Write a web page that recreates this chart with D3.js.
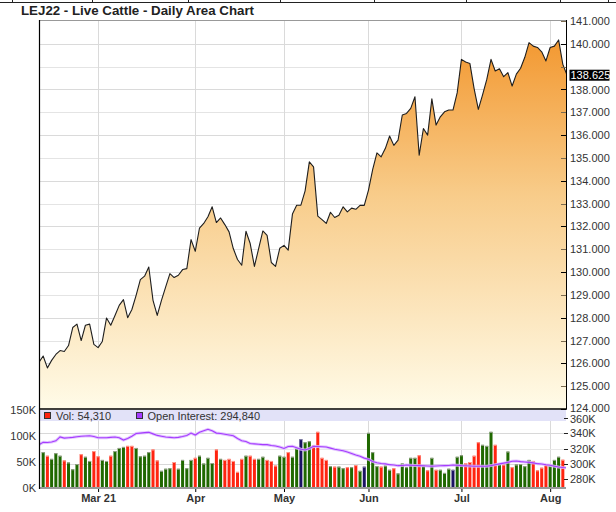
<!DOCTYPE html>
<html><head><meta charset="utf-8">
<script src="https://cdn.jsdelivr.net/npm/d3@7/dist/d3.min.js"></script>
<style>
body{margin:0;background:#fff}
svg{display:block;font-family:"Liberation Sans",Arial,Helvetica,sans-serif}
</style>
</head><body>
<svg id="c" width="616" height="512"></svg>
<script>
// ---------------- DATA ----------------
const chartTitle = "LEJ22 - Live Cattle - Daily Area Chart";
// daily closes; first value = session before first visible bar, last = latest session
const closes = [126.05,
  126.32,125.80,126.13,126.39,126.56,126.52,126.78,127.57,127.72,127.00,
  127.67,127.72,126.83,126.69,126.96,127.99,127.67,128.10,128.54,128.79,
  128.00,128.36,128.98,129.67,129.82,130.22,128.76,128.10,128.76,129.35,
  129.93,129.76,129.86,130.11,130.15,131.42,130.91,131.93,132.13,132.42,
  132.86,132.17,132.37,132.08,131.76,131.03,130.55,130.30,131.79,131.25,
  130.25,131.03,131.80,131.61,130.42,130.25,131.04,131.17,130.96,132.54,
  132.93,132.93,133.56,134.83,134.61,132.45,132.30,132.13,132.62,132.39,
  132.49,132.86,132.64,132.80,132.75,132.92,132.92,133.59,134.50,135.22,
  135.05,135.42,135.96,135.55,135.78,136.88,136.95,137.17,137.68,135.12,
  136.29,136.00,137.59,136.44,136.80,137.02,137.10,137.10,137.86,139.32,
  139.20,139.14,138.04,137.13,137.76,138.44,139.32,138.81,138.91,138.56,
  138.74,138.15,138.67,138.93,139.41,140.05,139.90,139.84,139.65,139.25,
  139.84,139.90,140.17,139.10,
  138.625];
// volume in thousands (null = not shown)
const volumes = [null,
  69,62,56,67,62,53,49,36,46,65,
  60,52,71,61,54,52,62,71,77,79,
  81,81,77,61,62,69,74,53,33,37,
  38,50,37,54,38,54,58,62,47,58,
  48,74,56,54,56,52,31,56,62,62,
  56,56,60,54,52,43,62,60,69,60,
  76,94,88,90,82,108,58,54,42,41,
  41,38,40,40,44,33,41,106,69,42,
  41,43,35,38,28,47,40,58,58,63,
  43,34,58,35,35,29,37,35,60,63,
  48,50,62,88,83,81,108,83,46,45,
  70,40,45,46,42,54,52,34,39,46,
  42,54,60,54.31,
  null];
// price change direction of each session: u = up, d = down, n = unchanged
const changes = [null,
  "u","d","u","u","u","d","u","u","u","d",
  "u","u","d","d","u","u","d","u","u","u",
  "d","d","u","u","u","u","d","d","u","u",
  "u","d","u","u","u","u","d","u","u","u",
  "u","d","u","d","d","d","d","d","u","d",
  "d","u","u","d","d","d","u","u","d","u",
  "u","n","u","u","d","d","d","d","u","d",
  "u","u","d","u","d","u","n","u","u","u",
  "d","u","u","d","u","u","u","u","u","d",
  "u","d","u","d","u","u","u","n","u","u",
  "d","d","d","d","u","u","u","d","u","d",
  "u","d","u","u","u","u","d","d","d","d",
  "u","u","u","d",
  null];
// open interest in thousands
const openInterest = [325,
  328,327.7,328.5,330,335,333.5,334,334.5,335.3,336,
  336.3,336.6,335.5,334,334,334,334.5,335,334,331,
  333,336,339.5,340,340.6,341,339,337,336,335,
  334.5,334,334.5,335.5,337,340,337.5,341,343,345,
  343,340,339.5,338.5,337.5,336.5,333,330,329,326.5,
  326,325.5,325,325,324,323.2,322,320,322.5,322.8,
  321,319,318,320,322.8,322.5,322.3,322,320.5,319,
  318,317,315.5,313.5,311.5,310,307.5,306,303,301.5,
  300.5,300,299,298.5,297.7,298,298.6,298.3,298,297.7,
  297.5,297.2,297,297.2,297.5,297.7,298,298.6,298.3,297.8,
  297.5,297.3,297,297,297,297,297.8,299,300,301,
  302,303.5,303.8,303,302.5,302,301.3,300.3,299.8,298.8,
  298.2,297,296,295.3,
  294.84];
const monthLabels = ["Mar 21","Apr","May","Jun","Jul","Aug"];
const monthIndex  = [14,37,58,78,100,121];
const priceTicks = [124,125,126,127,128,129,130,131,132,133,134,135,136,137,138,139,140,141];
const volumeTicks = [0,50,100,150];
const oiTicks = [280,300,320,340,360];
const lastPrice = 138.625, lastVolume = 54310, lastOpenInterest = 294840;

// ---------------- LAYOUT ----------------
const svg = d3.select("#c");
const L = 40, R = 566, pTop = 20, pBot = 409, legTop = 410, legBot = 421, vBot = 488;
const x = d3.scaleLinear().domain([0.25, 124.75]).range([L, R]);
const yP = d3.scaleLinear().domain([124, 141]).range([pBot, 21]);
const yV = d3.scaleLinear().domain([0, 150]).range([vBot, 410]);
const yOI = d3.scaleLinear().domain([280, 360]).range([479.3, 417.7]);
const txt = "#333";
const FONT = "Liberation Sans, Arial, sans-serif";

svg.append("rect").attr("width", 616).attr("height", 512).attr("fill", "#fff");

// top strip remnants (table border above the chart)
svg.append("line").attr("x1", 0).attr("x2", 616).attr("y1", 2.5).attr("y2", 2.5).attr("stroke", "#222");
[12, 92, 188, 280, 374, 466, 560, 608].forEach(v =>
  svg.append("line").attr("x1", v + .5).attr("x2", v + .5).attr("y1", 0).attr("y2", 3).attr("stroke", "#222"));

// title
svg.append("text").attr("x", 21).attr("y", 14.5).attr("font-size", "13.3px").attr("font-weight", "bold")
  .attr("fill", "#222").text(chartTitle);

const defs = svg.append("defs");
const grad = defs.append("linearGradient").attr("id", "ag").attr("gradientUnits", "userSpaceOnUse")
  .attr("x1", 0).attr("x2", 0).attr("y1", pTop).attr("y2", pBot);
grad.append("stop").attr("offset", 0).attr("stop-color", "#f29226");
grad.append("stop").attr("offset", 0.45).attr("stop-color", "#f8cc8a");
grad.append("stop").attr("offset", 1).attr("stop-color", "#fffbe8");
defs.append("clipPath").attr("id", "cp").append("rect").attr("x", L).attr("y", pTop).attr("width", R - L).attr("height", pBot - pTop);
defs.append("clipPath").attr("id", "cv").append("rect").attr("x", L).attr("y", legBot).attr("width", R - L).attr("height", vBot - legBot);

// price grid
const g = svg.append("g");
priceTicks.filter(p => p > 124 && p < 141).forEach(p =>
  g.append("line").attr("x1", L).attr("x2", R).attr("y1", Math.round(yP(p)) + .5).attr("y2", Math.round(yP(p)) + .5)
    .attr("stroke", p % 2 ? "#e4e4e4" : "#dadada"));
monthIndex.forEach(j => {
  const xx = Math.round(x(j)) + .5;
  g.append("line").attr("x1", xx).attr("x2", xx).attr("y1", pTop).attr("y2", pBot).attr("stroke", "#dadada");
  g.append("line").attr("x1", xx).attr("x2", xx).attr("y1", legBot).attr("y2", vBot).attr("stroke", "#dadada");
});

// area + line
const pg = svg.append("g").attr("clip-path", "url(#cp)");
pg.append("path").datum(closes)
  .attr("d", d3.area().x((d, i) => x(i)).y0(pBot).y1(d => yP(d)))
  .attr("fill", "url(#ag)");
pg.append("path").datum(closes)
  .attr("d", d3.line().x((d, i) => x(i)).y(d => yP(d)))
  .attr("fill", "none").attr("stroke", "#1e1e1e").attr("stroke-width", 1.1).attr("stroke-linejoin", "round");

// frame
svg.append("line").attr("x1", L).attr("x2", R).attr("y1", pTop + .5).attr("y2", pTop + .5).attr("stroke", "#999");
svg.append("line").attr("x1", R + .5).attr("x2", R + .5).attr("y1", pTop).attr("y2", pBot).attr("stroke", "#000");
svg.append("line").attr("x1", L).attr("x2", R + 1).attr("y1", pBot).attr("y2", pBot).attr("stroke", "#000").attr("stroke-width", 1.6);

// right price axis (labels hidden behind the last-price tag are not drawn, as in the source)
const ly = yP(lastPrice);
priceTicks.forEach(p => {
  const yy = Math.round(yP(p)) + .5;
  svg.append("line").attr("x1", R - 5).attr("x2", R).attr("y1", yy).attr("y2", yy)
    .attr("stroke", p % 2 ? "#7a6a50" : "#000");
});
const shownPriceTicks = priceTicks.filter(p => Math.abs(yP(p) - ly) > 11);
const pa = svg.append("g").attr("transform", `translate(${R},0)`)
  .call(d3.axisRight(yP).tickValues(shownPriceTicks).tickSize(0).tickPadding(4).tickFormat(d3.format(".3f")));
pa.select(".domain").remove();
pa.selectAll("text").attr("font-size", "11px").attr("font-family", FONT).attr("fill", txt)
  .attr("dy", d => d === 124 ? "0.2em" : "0.32em");

// last price tag
svg.append("rect").attr("x", 569.5).attr("y", ly - 5.5).attr("width", 40).attr("height", 11).attr("fill", "#000");
svg.append("text").attr("x", 570.5).attr("y", ly + 4).attr("font-size", "11px").attr("font-family", FONT).attr("fill", "#fff")
  .text(d3.format(".3f")(lastPrice));

// volume panel
svg.append("rect").attr("x", L).attr("y", legTop).attr("width", R - L).attr("height", legBot - legTop).attr("fill", "#e2e2f8");
oiTicks.filter(v => v > 280 && v < 360).forEach(v =>
  svg.append("line").attr("x1", L).attr("x2", R).attr("y1", Math.round(yOI(v)) + .5).attr("y2", Math.round(yOI(v)) + .5)
    .attr("stroke", v === 320 ? "#e8e8e8" : "#d8d8d8"));

const colorOf = { u: "#1f6800", d: "#ff2410", n: "#1a1262" };
const capOf = { u: "#9aa090", d: "#ff9c90", n: "#8a88aa" };
const vg = svg.append("g").attr("clip-path", "url(#cv)");
const vd = volumes.map((v, i) => ({ v, i, c: changes[i] })).filter(d => d.v != null);
vg.selectAll("rect.bar").data(vd).join("rect").attr("class", "bar")
  .attr("x", d => x(d.i) - 1.5).attr("width", 3)
  .attr("y", d => yV(d.v)).attr("height", d => vBot - yV(d.v))
  .attr("fill", d => colorOf[d.c]);
vg.selectAll("rect.cap").data(vd).join("rect").attr("class", "cap")
  .attr("x", d => x(d.i) - 1.5).attr("width", 3)
  .attr("y", d => yV(d.v)).attr("height", 1)
  .attr("fill", d => capOf[d.c]);

const oiLine = d3.line().x((d, i) => x(i)).y(d => yOI(d));
vg.append("path").datum(openInterest).attr("d", oiLine).attr("fill", "none")
  .attr("stroke", "#dcb8ff").attr("stroke-width", 3).attr("opacity", 0.8);
vg.append("path").datum(openInterest).attr("d", oiLine).attr("fill", "none")
  .attr("stroke", "#a53cff").attr("stroke-width", 1.1);

// legend
svg.append("rect").attr("x", 44.5).attr("y", 412.5).attr("width", 6).attr("height", 6).attr("fill", "#ff2410").attr("stroke", "#333");
svg.append("text").attr("x", 56).attr("y", 419.5).attr("font-size", "11px").attr("font-family", FONT).attr("fill", txt)
  .text("Vol: " + d3.format(",")(lastVolume));
svg.append("rect").attr("x", 136.5).attr("y", 412.5).attr("width", 6).attr("height", 6).attr("fill", "#a53cff").attr("stroke", "#333");
svg.append("text").attr("x", 147.5).attr("y", 419.5).attr("font-size", "11px").attr("font-family", FONT).attr("fill", txt)
  .text("Open Interest: " + d3.format(",")(lastOpenInterest));

// bottom axis
svg.append("line").attr("x1", L).attr("x2", R).attr("y1", vBot).attr("y2", vBot).attr("stroke", "#999").attr("stroke-width", 2);
const xa = svg.append("g").attr("transform", `translate(0,${vBot + 1})`)
  .call(d3.axisBottom(x).tickValues(monthIndex).tickSize(3).tickPadding(2).tickFormat((d, i) => monthLabels[i]));
xa.select(".domain").remove();
xa.selectAll("line").attr("stroke", "#000");
xa.selectAll("text").attr("font-size", "11px").attr("font-weight", "bold").attr("font-family", FONT).attr("fill", txt);

// left volume axis
const va = svg.append("g").attr("transform", `translate(${L},0)`)
  .call(d3.axisLeft(yV).tickValues(volumeTicks).tickSize(0).tickPadding(4).tickFormat(d => d + "K"));
va.select(".domain").remove();
va.selectAll("text").attr("font-size", "11px").attr("font-family", FONT).attr("fill", txt);

// right OI axis
oiTicks.forEach(v => {
  const yy = Math.round(yOI(v)) + .5;
  svg.append("line").attr("x1", R - 2).attr("x2", R + 2).attr("y1", yy).attr("y2", yy).attr("stroke", "#222");
});
const oa = svg.append("g").attr("transform", `translate(${R},0)`)
  .call(d3.axisRight(yOI).tickValues(oiTicks).tickSize(0).tickPadding(4).tickFormat(d => d + "K"));
oa.select(".domain").remove();
oa.selectAll("text").attr("font-size", "11px").attr("font-family", FONT).attr("fill", txt)
  .attr("dy", d => d === 360 ? "0.45em" : "0.32em");

// left frame line
svg.append("line").attr("x1", L - .5).attr("x2", L - .5).attr("y1", pTop).attr("y2", vBot + 1).attr("stroke", "#000").attr("stroke-width", 1.2);
</script>
</body></html>
